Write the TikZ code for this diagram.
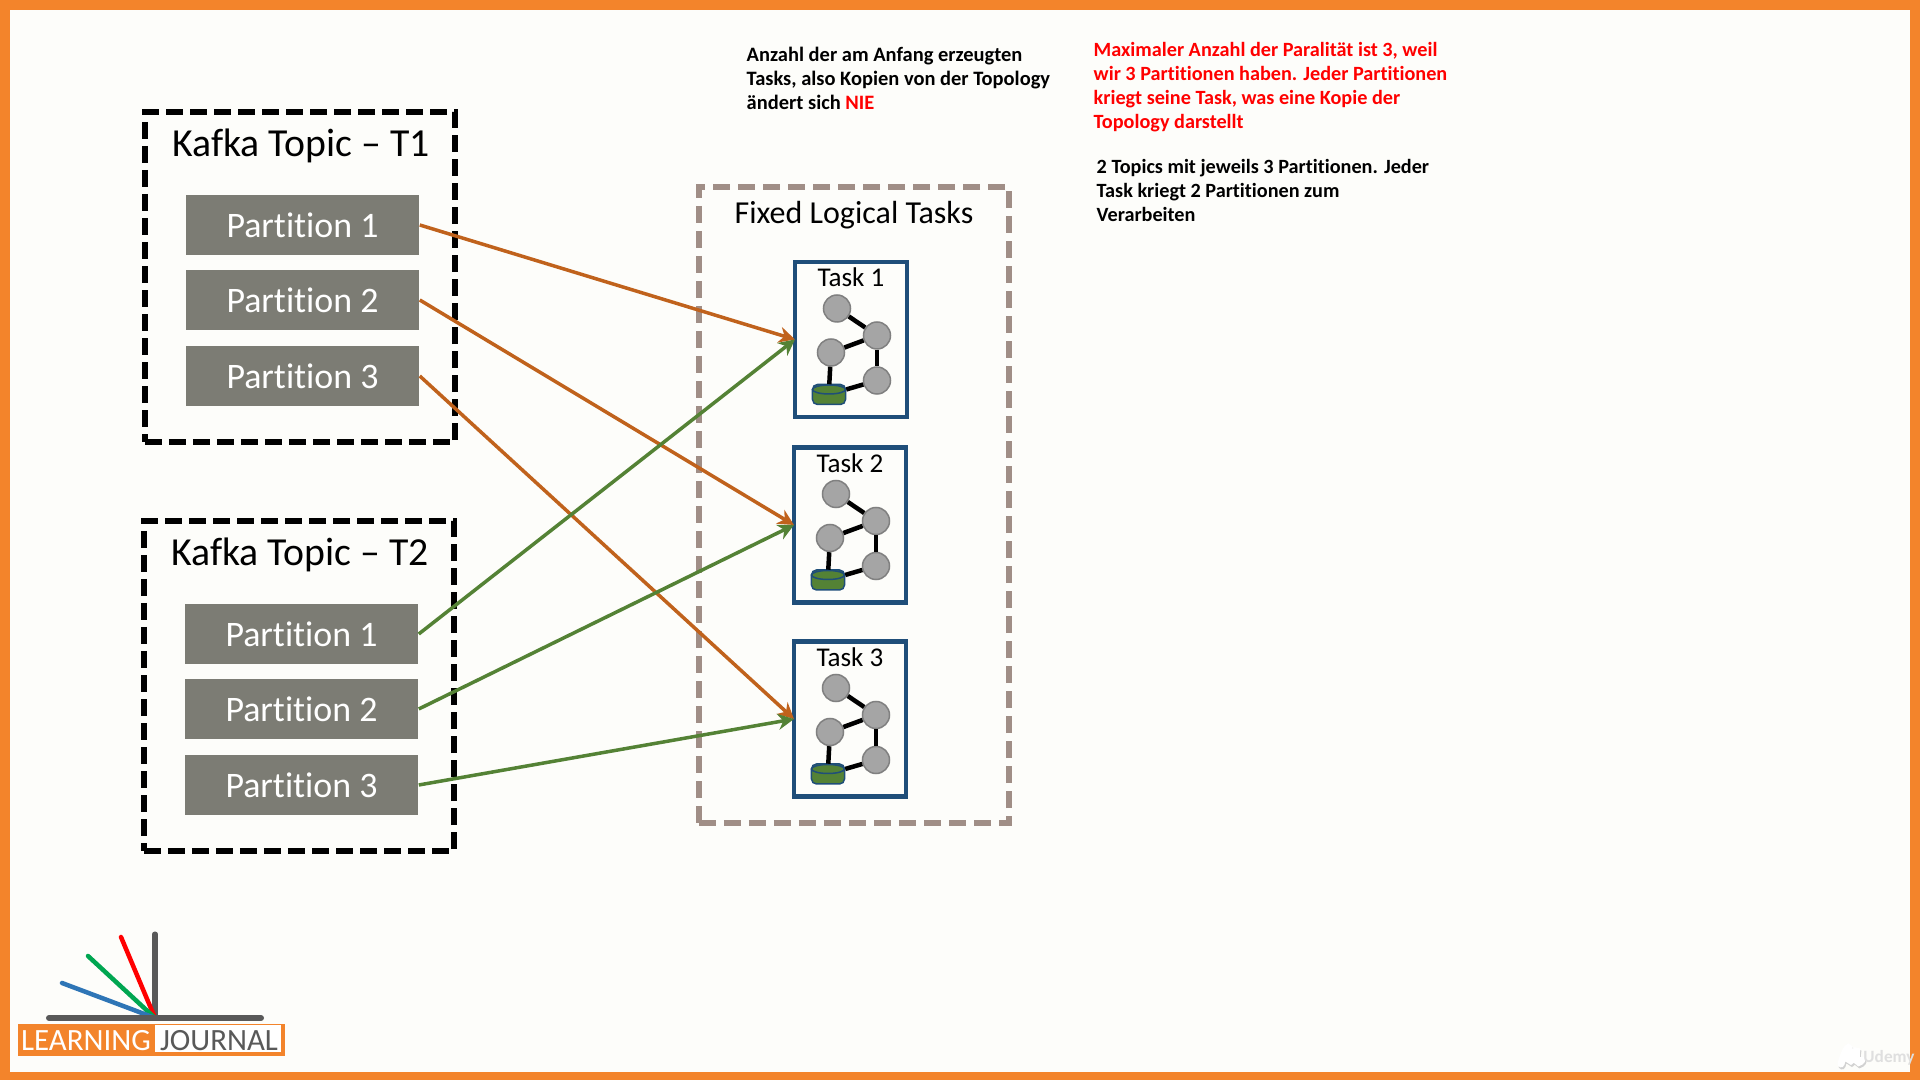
\documentclass[tikz,border=0pt]{standalone}
\usepackage{fontspec}
\setmainfont{Carlito}[Ligatures=NoCommon]
\usetikzlibrary{shapes.geometric,arrows.meta}
\definecolor{frameorange}{HTML}{F3842B}
\definecolor{paper}{HTML}{FDFDFA}
\definecolor{partgray}{HTML}{7C7C74}
\definecolor{taskblue}{HTML}{1F4E79}
\definecolor{logicgray}{HTML}{A08E86}
\definecolor{flowbrown}{HTML}{C0621C}
\definecolor{flowgreen}{HTML}{548235}
\definecolor{nodegray}{HTML}{A5A5A5}
\definecolor{logodark}{HTML}{595959}
\definecolor{logoblue}{HTML}{2E75B6}
\definecolor{logogreen}{HTML}{00A651}
\tikzset{
  topicbox/.style={draw=black, line width=0.055cm, dash pattern=on 0.17cm off 0.07cm, minimum width=3.1cm, minimum height=3.3cm},
  logicbox/.style={draw=logicgray, line width=0.06cm, dash pattern=on 0.17cm off 0.08cm, minimum width=3.1cm, minimum height=6.36cm},
  partbox/.style={fill=partgray, text=white, minimum width=2.33cm, minimum height=0.6cm, inner sep=0, font=\fontsize{10.2}{12}\selectfont},
  taskbox/.style={draw=taskblue, line width=0.045cm, fill=paper, minimum width=1.12cm, minimum height=1.55cm, outer sep=0},
  opnode/.style={circle, draw=gray, line width=0.015cm, fill=nodegray, minimum size=0.27cm, inner sep=0},
  storenode/.style={draw=taskblue, line width=0.015cm, fill=flowgreen, rounded corners=0.05cm, minimum width=0.33cm, minimum height=0.2cm, inner sep=0},
  storetop/.style={ellipse, draw=taskblue, line width=0.015cm, fill=flowgreen, minimum width=0.33cm, minimum height=0.09cm, inner sep=0},
  oplink/.style={black, line width=0.045cm},
  flowA/.style={flowbrown, line width=0.035cm, -{Stealth[length=0.16cm,width=0.16cm]}},
  flowB/.style={flowgreen, line width=0.035cm, -{Stealth[length=0.16cm,width=0.16cm]}},
  titletext/.style={inner sep=0, font=\fontsize{11.3}{13}\selectfont},
  notetext/.style={anchor=north west, align=left, inner sep=0, font=\fontsize{5.75}{6.85}\selectfont\bfseries}
}
\begin{document}
\begin{tikzpicture}[x=0.01cm,y=-0.01cm]
  % Frame
  \fill[frameorange] (0,0) rectangle (1920,1080);
  \fill[paper] (10,10) rectangle (1910,1072);
  \useasboundingbox (0,0) rectangle (1920,1080);
  % Topic boxes
  \node[topicbox] (topic1) at (300,277) {};
  \node[topicbox] (topic2) at (299,686) {};
  \node[titletext] (title1) at (301,146) {Kafka Topic – T1};
  \node[titletext] (title2) at (300,554.5) {Kafka Topic – T2};
  % Partitions
  \foreach \n/\y in {1/225,2/300,3/376} { \node[partbox] (t1p\n) at (302.5,\y) {Partition \n}; }
  \foreach \n/\y in {1/634,2/709,3/785} { \node[partbox] (t2p\n) at (301.5,\y) {Partition \n}; }
  % Logical tasks
  \node[logicbox] (logic) at (854,505) {};
  \node[inner sep=0, font=\fontsize{9.1}{11}\selectfont] (logictitle) at (854,215) {Fixed Logical Tasks};
  \foreach \t/\x/\y in {1/851/339.5,2/850/525,3/850/719} {
    \node[taskbox] (task\t) at (\x,\y) {};
    \node[inner sep=0, font=\fontsize{7.7}{9}\selectfont] (label\t) at (\x,\y-62) {Task \t};
    \node[opnode] (a\t) at (\x-14,\y-31) {};
    \node[opnode] (b\t) at (\x+26,\y-4) {};
    \node[opnode] (c\t) at (\x-20,\y+13) {};
    \node[opnode] (d\t) at (\x+26,\y+41) {};
    \node[storenode] (s\t) at (\x-22,\y+55) {};
    \node[storetop] (r\t) at (\x-22,\y+50) {};
    \draw[oplink] (a\t) -- (b\t);
    \draw[oplink] (c\t) -- (b\t);
    \draw[oplink] (b\t) -- (d\t);
    \draw[oplink] (c\t) -- (r\t);
    \draw[oplink] (s\t) -- (d\t);
  }
  % Arrows
  \foreach \n in {1,2,3} { \draw[flowA] (t1p\n.east) -- (task\n.west); }
  \foreach \n in {1,2,3} { \draw[flowB] (t2p\n.east) -- (task\n.west); }
  % Notes
  \node[notetext, font=\fontsize{5.82}{6.85}\selectfont\bfseries] (note1) at (746,46) {Anzahl der am Anfang erzeugten\\Tasks, also Kopien von der Topology\\ändert sich \textcolor{red}{NIE}};
  \node[notetext, text=red] (note2) at (1093,41.5) {Maximaler Anzahl der Paralität ist 3, weil\\wir 3 Partitionen haben. Jeder Partitionen\\kriegt seine Task, was eine Kopie der\\Topology darstellt};
  \node[notetext] (note3) at (1096,158.5) {2 Topics mit jeweils 3 Partitionen. Jeder\\Task kriegt 2 Partitionen zum\\Verarbeiten};
  % Logo
  \coordinate (logofoot) at (155,1018);
  \coordinate (logotop) at (155,934);
  \coordinate (logored) at (121,937);
  \coordinate (logogr) at (88,956);
  \coordinate (logobl) at (62,983);
  \coordinate (logoleft) at (49,1018);
  \coordinate (logoright) at (261,1018);
  \draw[logodark, line width=0.05cm, line cap=round] (logofoot) -- (logotop);
  \draw[red, line width=0.045cm, line cap=round] (logored) -- (logofoot);
  \draw[logogreen, line width=0.045cm, line cap=round] (logogr) -- (logofoot);
  \draw[logoblue, line width=0.045cm, line cap=round] (logobl) -- (logofoot);
  \draw[logodark, line width=0.06cm, line cap=round] (logoleft) -- (logoright);
  \fill[frameorange] (18,1024) rectangle (285,1056);
  \fill[white] (155,1025) rectangle (281,1052);
  \node[inner sep=0, text=white, font=\fontsize{8.8}{10}\selectfont] (logoA) at (86,1041) {LEARNING};
  \node[inner sep=0, text=logodark, font=\fontsize{8.8}{10}\selectfont] (logoB) at (219,1041) {JOURNAL};
  % Watermark
  \draw[gray!35, line width=0.07cm, line cap=round] (1842,1066) .. controls (1846,1050) and (1852,1044) .. (1850,1056) .. controls (1848,1066) and (1854,1066) .. (1858,1050) .. controls (1856,1062) and (1858,1068) .. (1863,1062);
  \draw[white, line width=0.07cm, line cap=round] (1841,1064) .. controls (1845,1048) and (1851,1042) .. (1849,1054) .. controls (1847,1064) and (1853,1064) .. (1857,1048) .. controls (1855,1060) and (1857,1066) .. (1862,1060);
  \node[inner sep=0, text=gray!25, font=\fontsize{4.9}{6}\selectfont\bfseries] (udemy) at (1889,1058) {Udemy};
\end{tikzpicture}
\end{document}
